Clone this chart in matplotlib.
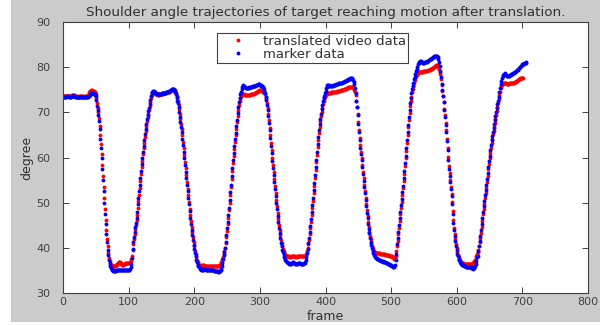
import numpy as np
import matplotlib
matplotlib.use('Agg')
import matplotlib.pyplot as plt
from matplotlib.patches import Rectangle

# shoulder angle (degree) per frame
blue_deg = [
    # start plateau + small bump
    73.4, 73.4, 73.5, 73.5, 73.5, 73.5, 73.6, 73.6, 73.6, 73.5,
    73.5, 73.5, 73.5, 73.6, 73.6, 73.7, 73.7, 73.6, 73.6, 73.5,
    73.5, 73.5, 73.5, 73.4, 73.4, 73.5, 73.5, 73.5, 73.5, 73.5,
    73.5, 73.4, 73.4, 73.4, 73.5, 73.5, 73.5, 73.5, 73.5, 73.6,
    73.7, 73.9,
    74.1, 74.3, 74.3, 74.2, 74.2, 74.0, 74.0, 73.9, 73.6,
    # fall 1
    72.8, 71.5, 70.5, 69.5, 68.0, 66.2, 64.2, 62.0, 59.8, 57.5,
    55.0, 52.5, 50.0, 47.6, 45.2, 43.1, 41.2, 39.6, 38.4, 37.4,
    36.6, 36.0,
    # trough 1
    35.6, 35.3, 35.0, 34.9, 34.8, 34.8, 34.9, 34.9, 35.0, 35.0,
    35.0, 35.0, 35.0, 35.0, 35.1, 35.1, 35.0, 35.0, 35.0, 35.0,
    35.0, 35.1, 35.1, 35.0, 35.0, 35.0, 35.0, 35.1, 35.2, 35.4,
    35.8, 36.5,
    # rise 1
    37.8, 39.8, 41.3, 42.5, 43.6, 44.6, 45.6, 46.7, 48.0, 49.6,
    51.0, 52.5, 54.0, 55.5, 57.0, 58.5, 60.0, 61.3, 62.6, 63.9,
    65.2, 66.4, 67.5, 68.5, 69.4, 70.2, 71.0, 71.9, 72.8, 73.6,
    74.2, 74.6,
    # top 1
    74.8, 74.8, 74.6, 74.4, 74.2, 74.1, 74.0, 74.0, 74.0, 74.0,
    74.0, 74.1, 74.1, 74.1, 74.2, 74.2, 74.2, 74.3, 74.3, 74.3,
    74.4, 74.4, 74.5, 74.5, 74.6, 74.7, 74.8, 74.9, 75.0, 75.1,
    75.1, 75.0, 74.9, 74.7, 74.4, 74.0,
    # fall 2
    73.3, 72.6, 72.0, 71.2, 70.1, 69.0, 67.9, 66.8, 65.6, 64.2,
    62.8, 61.3, 59.8, 58.3, 56.9, 55.5, 54.0, 52.5, 51.1, 49.6,
    48.1, 46.7, 45.3, 44.0, 42.8, 41.7, 40.7, 39.8, 38.9, 38.1,
    37.4, 36.8, 36.3, 36.0,
    # trough 2
    35.7, 35.5, 35.4, 35.3, 35.2, 35.2, 35.2, 35.2, 35.3, 35.3,
    35.3, 35.2, 35.2, 35.2, 35.2, 35.1, 35.1, 35.1, 35.1, 35.0,
    35.0, 35.0, 35.0, 34.9, 34.9, 34.9, 34.8, 34.8, 34.8, 34.7,
    34.7, 34.8, 34.9, 35.1, 35.4, 35.9, 36.6, 37.5,
    # rise 2
    38.4, 39.1, 40.0, 41.4, 42.8, 44.3, 45.8, 47.3, 48.9, 50.6,
    52.3, 54.0, 55.8, 57.6, 59.4, 61.0, 62.5, 64.0, 65.5, 67.0,
    68.4, 69.8, 71.1, 72.2, 73.2, 74.0, 74.6, 75.1,
    # top 2
    75.5, 75.9, 76.0, 75.9, 75.7, 75.5, 75.4, 75.3, 75.3, 75.3,
    75.4, 75.5, 75.5, 75.6, 75.7, 75.7, 75.8, 75.8, 75.8, 75.9,
    75.9, 76.0, 76.0, 76.1, 76.2, 76.2, 76.2, 76.1, 76.0, 75.9,
    75.8, 75.7, 75.5, 75.2, 74.8, 74.2, 73.5, 72.7,
    # fall 3
    71.7, 70.5, 69.1, 67.6, 66.0, 64.3, 62.6, 60.9, 59.3, 57.7,
    56.1, 54.6, 53.0, 51.5, 50.0, 48.5, 47.1, 45.7, 44.4, 43.2,
    42.1, 41.1, 40.3, 39.6, 39.0, 38.4, 38.0, 37.6, 37.3, 37.1,
    36.9, 36.8, 36.7,
    # trough 3
    36.6, 36.5, 36.5, 36.5, 36.6, 36.7, 36.8, 36.8, 36.7, 36.6,
    36.5, 36.5, 36.5, 36.5, 36.6, 36.6, 36.6, 36.6, 36.5, 36.5,
    36.5, 36.5, 36.5, 36.6, 36.7, 36.9, 37.3, 37.9, 38.8,
    # rise 3
    39.8, 41.0, 42.2, 43.5, 44.9, 46.4, 47.9, 49.4, 51.0, 52.7,
    54.4, 56.1, 57.8, 59.5, 61.2, 62.9, 64.5, 66.0, 67.4, 68.6,
    69.7, 70.7, 71.6, 72.4, 73.1, 73.7, 74.3, 74.8, 75.3, 75.7,
    # top 3
    76.0, 76.1, 76.0, 75.9, 75.8, 75.8, 75.8, 75.9, 75.9, 76.0,
    76.0, 76.1, 76.1, 76.2, 76.2, 76.3, 76.3, 76.4, 76.4, 76.5,
    76.5, 76.6, 76.6, 76.7, 76.7, 76.8, 76.9, 76.9, 77.0, 77.1,
    77.2, 77.2, 77.3, 77.4, 77.4, 77.5, 77.5, 77.5, 77.4, 77.2,
    76.8, 76.2, 75.4,
    # fall 4
    74.3, 72.6, 71.1, 69.3, 67.5, 65.7, 63.8, 62.2, 60.8, 59.4,
    57.9, 56.4, 54.9, 53.5, 52.1, 50.7, 49.2, 47.8, 46.5, 45.3,
    44.2, 43.2, 42.2, 41.4, 40.6, 39.9, 39.3, 38.8, 38.4, 38.1,
    # trough 4
    37.9, 37.8, 37.7, 37.6, 37.5, 37.4, 37.3, 37.2, 37.1, 37.1,
    37.0, 37.0, 36.9, 36.9, 36.8, 36.8, 36.7, 36.7, 36.6, 36.5,
    36.5, 36.4, 36.3, 36.2, 36.1, 36.0, 35.9, 35.8, 35.8, 35.9,
    36.3, 37.2, 38.6,
    # rise 4
    40.9, 42.2, 43.6, 45.1, 46.6, 48.0, 49.4, 50.8, 52.3, 53.8,
    55.4, 57.0, 58.7, 60.4, 62.1, 63.8, 65.6, 67.3, 69.0, 70.6,
    72.0, 73.2, 74.2, 75.1, 75.9, 76.6, 77.3, 77.9, 78.5, 79.1,
    79.6, 80.1, 80.6, 81.0,
    # top 4
    81.2, 81.3, 81.3, 81.2, 81.1, 81.0, 81.0, 81.0, 81.1, 81.1,
    81.2, 81.2, 81.3, 81.4, 81.5, 81.6, 81.7, 81.8, 81.9, 82.0,
    82.1, 82.2, 82.3, 82.4, 82.5, 82.5, 82.5, 82.4, 82.2, 81.8,
    81.2, 80.2,
    # fall 5
    79.2, 77.8, 76.3, 74.9, 73.6, 72.2, 70.6, 69.0, 67.3, 65.6,
    63.7, 61.6, 59.4, 57.5, 55.9, 54.5, 53.0, 51.5, 49.6, 47.5,
    45.6, 43.9, 42.6, 41.5, 40.5, 39.5, 38.7, 38.1, 37.6, 37.2,
    36.9,
    # trough 5
    36.7, 36.5, 36.3, 36.2, 36.1, 36.0, 35.9, 35.9, 35.8, 35.8,
    35.8, 35.8, 35.8, 35.7, 35.7, 35.7, 35.6, 35.5, 35.5, 35.4,
    35.5, 35.7, 36.0, 36.5, 37.1, 37.9,
    # rise 5
    38.3, 39.2, 40.4, 41.5, 42.7, 43.9, 45.2, 46.6, 48.0, 49.3,
    50.4, 51.6, 52.8, 53.9, 55.2, 56.6, 58.0, 59.2, 60.4, 61.6,
    62.8, 63.9, 64.8, 65.7, 66.5, 67.4, 68.2, 69.1, 70.0, 70.9,
    71.8, 72.6, 73.5, 74.4, 75.3, 76.2, 77.0, 77.6, 78.0, 78.3,
    # top 5
    78.5, 78.6, 78.5, 78.3, 78.1, 78.0, 78.0, 78.0, 78.1, 78.2,
    78.3, 78.4, 78.5, 78.6, 78.7, 78.8, 78.9, 79.0, 79.1, 79.2,
    79.3, 79.4, 79.6, 79.8, 80.0, 80.1, 80.3, 80.4, 80.6, 80.7,
    80.8, 80.9, 81.0, 81.0, 81.1,
]

red_deg = [
    # start plateau + bump
    73.6, 73.6, 73.6, 73.6, 73.6, 73.7, 73.7, 73.7, 73.6, 73.6,
    73.6, 73.6, 73.7, 73.8, 73.8, 73.9, 73.9, 73.8, 73.7, 73.6,
    73.6, 73.6, 73.5, 73.5, 73.5, 73.6, 73.6, 73.6, 73.6, 73.6,
    73.6, 73.5, 73.5, 73.5, 73.6, 73.6, 73.6, 73.7, 73.8, 74.1,
    74.4,
    74.7, 74.8, 74.9, 74.9, 74.8, 74.8, 74.7, 74.6, 74.4, 74.0,
    # fall 1
    73.2, 72.0, 71.0, 70.0, 68.7, 67.0, 65.0, 62.9, 60.7, 58.4,
    56.0, 53.5, 51.0, 48.5, 46.1, 44.0, 42.0, 40.3, 38.9, 37.8,
    37.0, 36.5,
    # trough 1
    36.3, 36.1, 36.0, 35.9, 35.9, 36.0, 36.0, 36.1, 36.2, 36.3,
    36.5, 36.7, 36.9, 36.9, 36.8, 36.6, 36.4, 36.3, 36.3, 36.3,
    36.4, 36.5, 36.6, 36.7, 36.7, 36.7, 36.7, 36.7, 36.7, 36.8,
    37.0, 37.5,
    # rise 1
    38.3, 39.6, 40.9, 42.0, 43.1, 44.1, 45.1, 46.1, 47.3, 48.8,
    50.3, 51.8, 53.3, 54.8, 56.3, 57.8, 59.3, 60.7, 62.0, 63.3,
    64.6, 65.8, 66.9, 68.0, 68.9, 69.7, 70.5, 71.4, 72.3, 73.1,
    73.8, 74.3,
    # top 1
    74.5, 74.5, 74.4, 74.2, 74.1, 74.0, 74.0, 73.9, 73.9, 73.9,
    74.0, 74.0, 74.0, 74.1, 74.1, 74.1, 74.2, 74.2, 74.2, 74.3,
    74.3, 74.4, 74.4, 74.5, 74.6, 74.7, 74.8, 74.9, 75.0, 75.1,
    75.2, 75.2, 75.1, 74.9, 74.6, 74.2,
    # fall 2
    73.7, 73.1, 72.5, 71.7, 70.7, 69.6, 68.5, 67.4, 66.2, 64.9,
    63.5, 62.0, 60.5, 59.0, 57.6, 56.1, 54.6, 53.1, 51.7, 50.2,
    48.7, 47.3, 45.9, 44.6, 43.4, 42.3, 41.2, 40.3, 39.4, 38.6,
    37.9, 37.3, 36.8, 36.5,
    # trough 2
    36.3, 36.1, 36.0, 36.0, 36.0, 36.1, 36.1, 36.1, 36.1, 36.0,
    36.0, 36.0, 36.0, 36.0, 36.0, 36.0, 36.0, 36.0, 35.9, 35.9,
    35.9, 35.9, 35.9, 35.9, 35.9, 35.9, 35.9, 35.9, 35.9, 36.0,
    36.0, 36.1, 36.3, 36.5, 36.8, 37.1, 37.5, 38.0,
    # rise 2
    38.6, 39.2, 39.9, 41.0, 42.3, 43.7, 45.2, 46.7, 48.3, 50.0,
    51.7, 53.4, 55.2, 57.0, 58.8, 60.4, 61.9, 63.4, 64.9, 66.4,
    67.8, 69.2, 70.5, 71.6, 72.5, 73.2, 73.6, 73.9,
    # top 2
    74.0, 74.1, 74.1, 74.0, 73.9, 73.8, 73.8, 73.8, 73.8, 73.8,
    73.9, 73.9, 73.9, 74.0, 74.0, 74.0, 74.0, 74.1, 74.1, 74.2,
    74.3, 74.4, 74.5, 74.6, 74.7, 74.8, 74.9, 74.9, 74.9, 74.8,
    74.8, 74.7, 74.6, 74.5, 74.3, 74.0, 73.5, 72.9,
    # fall 3
    72.1, 71.0, 69.7, 68.2, 66.6, 65.0, 63.3, 61.6, 60.0, 58.4,
    56.8, 55.3, 53.7, 52.2, 50.7, 49.2, 47.8, 46.4, 45.1, 43.9,
    42.8, 41.8, 41.0, 40.3, 39.7, 39.2, 38.9, 38.6, 38.4, 38.3,
    38.2, 38.2, 38.2,
    # trough 3
    38.1, 38.0, 38.0, 38.0, 38.1, 38.2, 38.3, 38.3, 38.2, 38.1,
    38.0, 38.0, 38.0, 38.1, 38.1, 38.2, 38.2, 38.3, 38.3, 38.3,
    38.3, 38.3, 38.3, 38.3, 38.3, 38.3, 38.4, 38.7, 39.3,
    # rise 3
    40.0, 40.8, 41.8, 43.0, 44.3, 45.8, 47.3, 48.8, 50.4, 52.1,
    53.8, 55.5, 57.2, 58.9, 60.6, 62.3, 63.9, 65.4, 66.8, 68.0,
    69.1, 70.1, 71.0, 71.8, 72.5, 73.1, 73.5, 73.8, 74.0, 74.1,
    # top 3
    74.2, 74.2, 74.3, 74.3, 74.3, 74.3, 74.4, 74.4, 74.4, 74.5,
    74.5, 74.5, 74.6, 74.6, 74.6, 74.7, 74.7, 74.8, 74.8, 74.8,
    74.9, 74.9, 75.0, 75.0, 75.0, 75.1, 75.1, 75.2, 75.2, 75.3,
    75.3, 75.4, 75.5, 75.5, 75.6, 75.7, 75.7, 75.7, 75.7, 75.6,
    75.4, 75.0, 74.5,
    # fall 4
    73.8, 72.6, 71.2, 69.6, 67.9, 66.1, 64.3, 62.7, 61.2, 59.8,
    58.3, 56.8, 55.4, 54.0, 52.6, 51.1, 49.7, 48.3, 47.0, 45.8,
    44.7, 43.6, 42.7, 41.9, 41.1, 40.4, 39.9, 39.5, 39.2, 39.0,
    # trough 4
    38.9, 38.8, 38.8, 38.8, 38.8, 38.8, 38.8, 38.7, 38.7, 38.7,
    38.7, 38.6, 38.6, 38.6, 38.6, 38.5, 38.5, 38.5, 38.4, 38.4,
    38.4, 38.3, 38.3, 38.2, 38.2, 38.1, 38.0, 37.9, 37.7, 37.6,
    37.7, 38.3, 39.3,
    # rise 4
    40.4, 41.6, 43.0, 44.5, 46.0, 47.4, 48.8, 50.2, 51.7, 53.2,
    54.8, 56.4, 58.1, 59.8, 61.5, 63.2, 65.0, 66.7, 68.4, 69.9,
    71.3, 72.5, 73.5, 74.4, 75.2, 75.9, 76.5, 77.1, 77.6, 78.0,
    78.3, 78.6, 78.8, 78.9,
    # top 4
    79.0, 79.0, 79.0, 79.0, 79.0, 79.0, 79.1, 79.1, 79.1, 79.1,
    79.2, 79.2, 79.2, 79.3, 79.3, 79.4, 79.4, 79.5, 79.6, 79.7,
    79.8, 79.9, 80.0, 80.1, 80.2, 80.3, 80.4, 80.5, 80.4, 80.1,
    79.6, 78.9,
    # fall 5
    78.5, 77.4, 76.1, 74.8, 73.6, 72.3, 70.8, 69.3, 67.7, 66.0,
    64.2, 62.2, 60.1, 58.2, 56.5, 55.0, 53.5, 52.0, 50.2, 48.1,
    46.2, 44.5, 43.1, 41.9, 40.9, 39.9, 39.1, 38.4, 37.9, 37.5,
    37.2,
    # trough 5
    36.9, 36.8, 36.7, 36.6, 36.6, 36.5, 36.5, 36.5, 36.5, 36.5,
    36.5, 36.5, 36.5, 36.4, 36.4, 36.4, 36.4, 36.4, 36.5, 36.6,
    36.8, 37.0, 37.3, 37.7, 38.1, 38.6,
    # rise 5
    39.0, 39.6, 40.3, 41.2, 42.2, 43.3, 44.6, 46.0, 47.4, 48.7,
    49.8, 51.0, 52.2, 53.3, 54.6, 56.0, 57.4, 58.6, 59.8, 61.0,
    62.2, 63.3, 64.2, 65.1, 65.9, 66.8, 67.6, 68.5, 69.4, 70.3,
    71.2, 72.0, 72.9, 73.8, 74.6, 75.3, 75.8, 76.1, 76.3, 76.4,
    # top 5
    76.5, 76.5, 76.4, 76.4, 76.3, 76.3, 76.3, 76.3, 76.4, 76.4,
    76.4, 76.4, 76.5, 76.5, 76.6, 76.6, 76.7, 76.7, 76.8, 76.9,
    77.0, 77.1, 77.2, 77.3, 77.4, 77.5, 77.6, 77.6, 77.6, 77.5,
]

blue_frames = np.arange(len(blue_deg))
red_frames = np.arange(len(red_deg))

x_ticks = [0, 100, 200, 300, 400, 500, 600, 700, 800]
y_ticks = [30, 40, 50, 60, 70, 80, 90]

plt.rcParams['font.family'] = 'DejaVu Sans'
txt_color = '#303030'

fig = plt.figure(figsize=(6, 3.25), dpi=100, facecolor='white')
# grey matlab-like figure panel (white strip on left and bottom)
fig.patches.append(Rectangle((11 / 600, 3 / 325), 1, 1, transform=fig.transFigure,
                             facecolor='#cbcbcb', edgecolor='none', zorder=-10))

ax = fig.add_axes([63 / 600, 32 / 325, 525 / 600, 271 / 325])
ax.set_facecolor('white')

ax.plot(red_frames, red_deg, linestyle='none', marker='o', markersize=2.8,
        markeredgewidth=0, color='#ff0000', label='translated video data')
ax.plot(blue_frames, blue_deg, linestyle='none', marker='o', markersize=2.8,
        markeredgewidth=0, color='#0000ff', label='marker data')

ax.set_xlim(0, 800)
ax.set_ylim(30, 90)
ax.set_xticks(x_ticks)
ax.set_yticks(y_ticks)

ax.tick_params(direction='in', top=True, right=True, length=4, width=0.7,
               colors='#404040', labelsize=8)
ax.tick_params(axis='y', pad=9)
ax.tick_params(axis='x', pad=3)
for sp in ax.spines.values():
    sp.set_color('#404040')
    sp.set_linewidth(0.8)

ax.set_xlabel('frame', fontsize=9, color=txt_color, labelpad=2)
ax.set_ylabel('degree', fontsize=9, color=txt_color, labelpad=2)
ax.set_title('Shoulder angle trajectories of target reaching motion after translation.',
             fontsize=9.7, color=txt_color, pad=4)

leg = ax.legend(loc='upper left', bbox_to_anchor=(0.293, 0.958), fontsize=9.5,
                frameon=True, fancybox=False, framealpha=1, edgecolor='#404040',
                handlelength=3.0, handletextpad=0.4, borderpad=0.12,
                labelspacing=0.0, markerscale=1.0, borderaxespad=0)
leg.get_frame().set_linewidth(0.8)
for t in leg.get_texts():
    t.set_color(txt_color)

plt.savefig('out.png', dpi=100, facecolor=fig.get_facecolor())
